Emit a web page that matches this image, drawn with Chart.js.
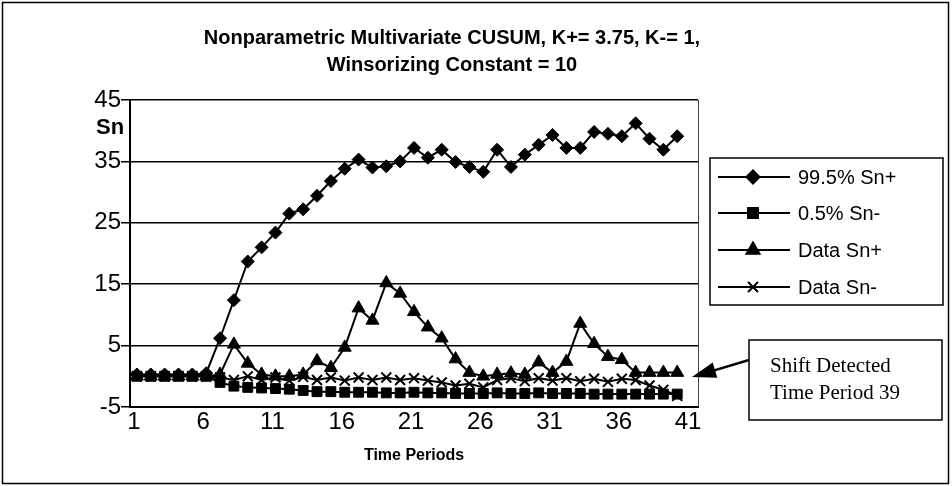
<!DOCTYPE html>
<html>
<head>
<meta charset="utf-8">
<script src="https://cdn.jsdelivr.net/npm/chart.js@4.4.1/dist/chart.umd.min.js"></script>
<style>
  html, body { margin: 0; padding: 0; background: #fff; }
  #wrap { width: 952px; height: 486px; position: relative; }
</style>
</head>
<body>
<div id="wrap"><canvas id="chart" width="952" height="486"></canvas></div>
<script>
const periods = Array.from({ length: 41 }, (_, i) => String(i + 1));

const upper995 = [0.3, 0.3, 0.3, 0.3, 0.3, 0.5, 6.2, 12.4, 18.7, 21.0, 23.4, 26.5, 27.2, 29.4, 31.8,
  33.8, 35.3, 34.0, 34.2, 35.0, 37.2, 35.6, 36.9, 34.9, 34.1, 33.3, 36.9, 34.1, 36.1, 37.7,
  39.3, 37.2, 37.2, 39.8, 39.5, 39.1, 41.2, 38.7, 36.9, 39.1];

const lower005 = [0, 0, 0, 0, 0, 0, -1.0, -1.6, -1.8, -1.9, -2.0, -2.1, -2.3, -2.5, -2.5,
  -2.6, -2.6, -2.6, -2.7, -2.7, -2.6, -2.7, -2.7, -2.8, -2.8, -2.8, -2.7, -2.8, -2.8, -2.7,
  -2.8, -2.8, -2.8, -2.9, -2.9, -2.9, -2.9, -2.9, -2.9, -2.9];

const dataSnPlus = [0, 0, 0, 0, 0, 0, 0.3, 5.2, 2.1, 0.3, 0, 0, 0.3, 2.5, 1.4,
  4.7, 11.1, 9.1, 15.2, 13.5, 10.5, 8.0, 6.2, 2.8, 0.6, 0, 0.3, 0.5, 0.3, 2.3,
  0.6, 2.4, 8.6, 5.3, 3.2, 2.7, 0.6, 0.6, 0.6, 0.6];

const dataSnMinus = [0, 0, 0, 0, 0, 0, -0.2, -0.6, 0, -0.6, -0.2, -0.7, -0.1, -0.6, -0.2,
  -0.7, -0.2, -0.6, -0.2, -0.6, -0.3, -0.7, -1.0, -1.5, -1.2, -1.8, -0.6, -0.3, -0.8, -0.3,
  -0.7, -0.3, -0.8, -0.4, -0.9, -0.4, -0.6, -1.5, -2.2, -3.2];

const yTicks = [-5, 5, 15, 25, 35, 45];

const seriesNames = ["99.5% Sn+", "0.5% Sn-", "Data Sn+", "Data Sn-"];

function lineSet(label, data, pointStyle, radius, markerWidth, order) {
  return {
    label,
    data,
    order,
    borderColor: "#000",
    backgroundColor: "#000",
    borderWidth: 2,
    tension: 0,
    pointStyle,
    pointRadius: radius,
    pointBackgroundColor: "#000",
    pointBorderColor: "#000",
    pointBorderWidth: markerWidth,
  };
}

const extras = {
  id: "extras",
  afterDraw(chart) {
    const ctx = chart.ctx;
    const area = chart.chartArea;
    ctx.save();

    // plot right edge (thin)
    ctx.strokeStyle = "#444";
    ctx.lineWidth = 1;
    ctx.beginPath();
    ctx.moveTo(area.right + 0.5, area.top);
    ctx.lineTo(area.right + 0.5, area.bottom);
    ctx.stroke();

    // outer frame
    ctx.strokeStyle = "#000";
    ctx.lineWidth = 1.5;
    ctx.strokeRect(2.5, 2.5, 946, 481);

    // y axis caption
    ctx.fillStyle = "#000";
    ctx.font = "bold 22px 'Liberation Sans', Arial, sans-serif";
    ctx.textBaseline = "middle";
    ctx.textAlign = "left";
    ctx.fillText("Sn", 96, 128);

    // legend
    const lx = 710, ly = 158, lw = 233, lh = 147;
    ctx.lineWidth = 1.5;
    ctx.strokeRect(lx, ly, lw, lh);
    const rows = [177, 213, 250, 287];
    chart.data.datasets.forEach((ds, i) => {
      const y = rows[i];
      ctx.strokeStyle = "#000";
      ctx.lineWidth = 2;
      ctx.beginPath();
      ctx.moveTo(718, y);
      ctx.lineTo(790, y);
      ctx.stroke();
      Chart.helpers.drawPoint(ctx, {
        pointStyle: ds.pointStyle,
        radius: ds.pointRadius,
        borderWidth: ds.pointBorderWidth,
      }, 753, y);
      ctx.fillStyle = "#000";
      ctx.font = "20px 'Liberation Sans', Arial, sans-serif";
      ctx.fillText(seriesNames[i], 798, y + 1);
    });

    // annotation
    const bx = 749, by = 340, bw = 193, bh = 80;
    ctx.fillStyle = "#fff";
    ctx.fillRect(bx, by, bw, bh);
    ctx.strokeStyle = "#000";
    ctx.lineWidth = 1.5;
    ctx.strokeRect(bx, by, bw, bh);
    ctx.fillStyle = "#000";
    ctx.font = "21px 'Liberation Serif', 'Times New Roman', serif";
    ctx.fillText("Shift Detected", 770, 366);
    ctx.fillText("Time Period 39", 770, 393);

    // arrow
    const x0 = bx, y0 = 360, x1 = 692, y1 = 377;
    const ang = Math.atan2(y1 - y0, x1 - x0);
    ctx.lineWidth = 2.5;
    ctx.beginPath();
    ctx.moveTo(x0, y0);
    ctx.lineTo(x1 - 18 * Math.cos(ang), y1 - 18 * Math.sin(ang));
    ctx.stroke();
    ctx.beginPath();
    ctx.moveTo(x1, y1);
    ctx.lineTo(x1 - 24 * Math.cos(ang) + 8 * Math.sin(ang), y1 - 24 * Math.sin(ang) - 8 * Math.cos(ang));
    ctx.lineTo(x1 - 24 * Math.cos(ang) - 8 * Math.sin(ang), y1 - 24 * Math.sin(ang) + 8 * Math.cos(ang));
    ctx.closePath();
    ctx.fill();

    ctx.restore();
  },
};

new Chart(document.getElementById("chart"), {
  type: "line",
  data: {
    labels: periods,
    datasets: [
      lineSet(seriesNames[0], upper995, "rectRot", 6.5, 1, 4),
      lineSet(seriesNames[1], lower005, "rect", 7, 1, 3),
      lineSet(seriesNames[2], dataSnPlus, "triangle", 7.5, 1, 2),
      lineSet(seriesNames[3], dataSnMinus, "crossRot", 7, 2, 1),
    ],
  },
  options: {
    responsive: false,
    animation: false,
    events: [],
    layout: { padding: { left: 0, right: 48, top: 0, bottom: 0 } },
    plugins: {
      legend: { display: false },
      tooltip: { enabled: false },
      title: {
        display: true,
        text: ["Nonparametric Multivariate CUSUM, K+= 3.75, K-= 1,", "Winsorizing Constant = 10"],
        color: "#000",
        font: { family: "'Liberation Sans', Arial, sans-serif", size: 20, weight: "bold", lineHeight: 1.35 },
        padding: { top: 24.5, bottom: 21.5 },
      },
    },
    scales: {
      x: {
        offset: true,
        grid: { display: false, drawTicks: false },
        border: { display: true, color: "#000", width: 2 },
        ticks: {
          autoSkip: false,
          maxRotation: 0,
          padding: 1,
          labelOffset: -3,
          color: "#000",
          font: { family: "'Liberation Sans', Arial, sans-serif", size: 24 },
          callback: (v, i) => (i % 5 === 0 ? periods[i] : ""),
        },
        title: {
          display: true,
          text: "Time Periods",
          color: "#000",
          font: { family: "'Liberation Sans', Arial, sans-serif", size: 16, weight: "bold" },
          padding: { top: 0, bottom: 21 },
        },
        afterFit: (s) => { s.height = 79; },
      },
      y: {
        min: -5,
        max: 45,
        afterBuildTicks: (s) => { s.ticks = yTicks.map((v) => ({ value: v })); },
        grid: { color: "#000", lineWidth: 1.5, tickLength: 9, drawOnChartArea: true },
        border: { display: true, color: "#000", width: 2 },
        ticks: {
          padding: 0,
          color: "#000",
          font: { family: "'Liberation Sans', Arial, sans-serif", size: 24 },
        },
        afterFit: (s) => { s.width = 130; },
      },
      yRight: {
        position: "right",
        display: true,
        grid: { display: false, drawTicks: false },
        border: { display: false },
        ticks: { display: false },
        afterFit: (s) => { s.width = 206; },
      },
    },
  },
  plugins: [extras],
});
</script>
</body>
</html>
